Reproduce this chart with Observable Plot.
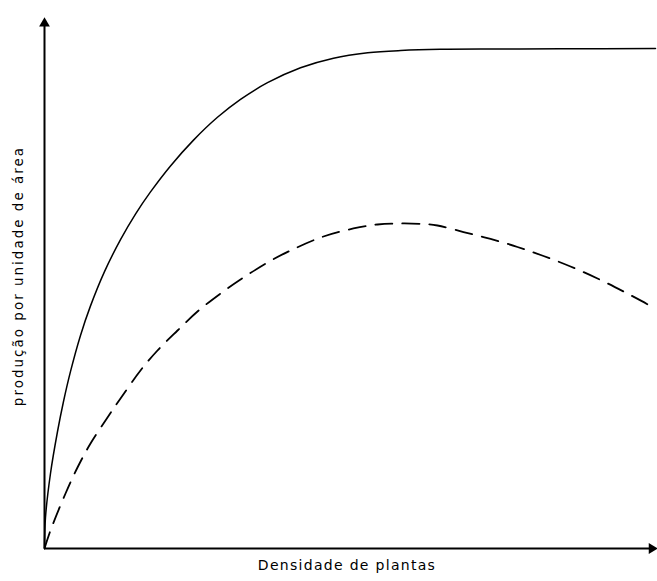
<!DOCTYPE html>
<html>
<head>
<meta charset="utf-8">
<script src="https://cdn.jsdelivr.net/npm/d3@7"></script>
<script src="https://cdn.jsdelivr.net/npm/@observablehq/plot@0.6"></script>
<style>
  html, body { margin: 0; padding: 0; background: #fff; }
</style>
</head>
<body>
<div id="chart"></div>
<script>
// Solid curve: production per area rising to a plateau
const solidX = [0, 0.16, 0.98, 2.13, 3.11, 4.26, 5.89, 7.53, 9.82, 12.44, 14.89, 17.35, 20.62, 24.39, 28.31, 32.08, 36.5, 41.9, 47.3, 52.9, 58.3, 64.8, 74.6, 84.5, 100];
const solidY = [0, 5.82, 14.07, 21.95, 27.58, 33.23, 39.98, 45.52, 51.95, 57.95, 62.74, 66.9, 71.78, 76.62, 80.9, 84.26, 87.39, 90.19, 91.99, 93.0, 93.43, 93.66, 93.71, 93.75, 93.81];
// Dashed curve: production with a maximum then decline
const dashX = [0, 0.98, 3.44, 5.4, 7.53, 10.31, 12.44, 15.71, 18.49, 21.77, 25.04, 28.81, 32.08, 36.5, 40.26, 45.66, 50.57, 54.5, 58.27, 62.03, 64.32, 68.58, 73.0, 77.41, 81.67, 86.09, 90.51, 94.76, 99.18, 100];
const dashY = [0, 3.38, 10.32, 15.2, 19.7, 24.58, 28.14, 33.4, 37.15, 40.9, 44.47, 47.84, 50.47, 53.66, 55.91, 58.54, 60.04, 60.79, 60.98, 60.88, 60.6, 59.38, 58.07, 56.57, 54.88, 52.91, 50.66, 48.22, 45.5, 44.9];
const xLabel = "Densidade de plantas";
const yLabel = "produção por unidade de área";

const solid = solidX.map((x, i) => ({x, y: solidY[i]}));
const dashed = dashX.map((x, i) => ({x, y: dashY[i]}));

const font = "'DejaVu Sans', sans-serif";

const chart = Plot.plot({
  width: 657,
  height: 581,
  marginLeft: 44,
  marginRight: 2,
  marginTop: 15,
  marginBottom: 33,
  x: {domain: [0, 100], axis: null},
  y: {domain: [0, 100], axis: null},
  style: {fontFamily: font, background: "#fff"},
  marks: [
    // axes
    Plot.ruleX([0], {y1: 0, y2: 99, stroke: "#000", strokeWidth: 2}),
    Plot.ruleY([0], {x1: 0, x2: 99.3, stroke: "#000", strokeWidth: 2}),
    Plot.dot([{x: 0, y: 98.5}], {x: "x", y: "y", symbol: "triangle", r: 4, fill: "#000", stroke: "none"}),
    Plot.dot([{x: 99.4, y: 0}], {x: "x", y: "y", symbol: "triangle", r: 4, fill: "#000", stroke: "none", rotate: 90}),
    // curves
    Plot.line(solid, {x: "x", y: "y", curve: "catmull-rom", stroke: "#000", strokeWidth: 1.5}),
    Plot.line(dashed, {x: "x", y: "y", curve: "catmull-rom", stroke: "#000", strokeWidth: 1.8, strokeDasharray: "17,10"}),
    // labels
    Plot.text([xLabel], {frameAnchor: "bottom", dy: 21, dx: -3, text: d => d, fontSize: 14, fill: "#000", fontFamily: font, className: "xlab"}),
    Plot.text([yLabel], {frameAnchor: "left", textAnchor: "middle", dx: -26, dy: -6, text: d => d, rotate: -90, fontSize: 13.5, fill: "#000", fontFamily: font, className: "ylab"})
  ]
});

d3.select(chart).selectAll(".xlab text").style("letter-spacing", "1.3px");
d3.select(chart).selectAll(".ylab text").style("letter-spacing", "2px");

document.getElementById("chart").appendChild(chart);
</script>
</body>
</html>
